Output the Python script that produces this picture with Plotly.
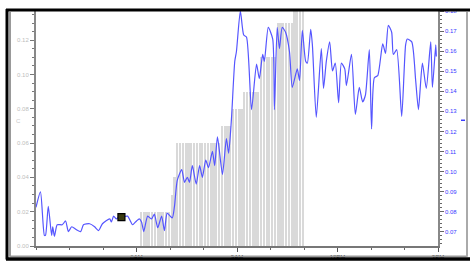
import plotly.graph_objects as go

DAY = "2024-01-01 "

# Line series (right axis)
line_times = ["03:00","03:08","03:15","03:17","03:22","03:28","03:30","03:33","03:38","03:47",
              "03:53","03:58","04:04","04:12","04:20","04:25","04:36","04:45","04:52","04:59",
              "05:12","05:15","05:19","05:24","05:28","05:33","05:44","05:53","06:00","06:05",
              "06:09","06:13","06:20","06:27","06:32","06:38","06:45","06:50","06:55","07:04",
              "07:08","07:13","07:21","07:26","07:31","07:35","07:40","07:47","07:53","07:58",
              "08:04","08:09","08:16","08:20","08:25","08:34","08:41","08:45","08:50","08:56",
              "08:59","09:06","09:12","09:17","09:26","09:35","09:40","09:46","09:49","09:56",
              "10:04","10:07","10:12","10:16","10:21","10:27","10:34","10:39","10:48","10:52",
              "10:57","11:03","11:06","11:12","11:15","11:22","11:31","11:35","11:40","11:46",
              "11:51","11:56","12:02","12:07","12:13","12:16","12:25","12:32","12:39","12:45",
              "12:50","12:57","13:01","13:06","13:12","13:21","13:26","13:31","13:37","13:40",
              "13:46","13:55","14:02","14:05","14:13","14:20","14:25","14:32","14:39","14:47",
              "14:50","14:56","14:57"]
line_values = [0.0821,0.0898,0.0681,0.0681,0.0826,0.0681,0.0724,0.0676,0.0734,0.0734,
               0.0753,0.0700,0.0724,0.0710,0.0700,0.0734,0.0739,0.0724,0.0705,0.0739,
               0.0763,0.0748,0.0777,0.0763,0.0772,0.0772,0.0777,0.0734,0.0753,0.0763,
               0.0748,0.0700,0.0777,0.0763,0.0787,0.0719,0.0777,0.0705,0.0792,0.0768,
               0.0826,0.0956,0.1009,0.0946,0.0971,0.0946,0.1029,0.0937,0.1029,0.0971,
               0.1057,0.1019,0.1101,0.1029,0.1173,0.0985,0.1164,0.1091,0.1260,0.1550,
               0.1599,0.1801,0.1681,0.1671,0.1309,0.1536,0.1463,0.1584,0.1550,0.1719,
               0.1661,0.1309,0.1719,0.1613,0.1719,0.1695,0.1599,0.1420,0.1512,0.1454,
               0.1705,0.1550,0.1541,0.1710,0.1632,0.1270,0.1613,0.1415,0.1550,0.1647,
               0.1502,0.1541,0.1343,0.1541,0.1512,0.1429,0.1584,0.1285,0.1420,0.1347,
               0.1381,0.1608,0.1212,0.1468,0.1478,0.1637,0.1589,0.1729,0.1695,0.1584,
               0.1608,0.1275,0.1632,0.1661,0.1647,0.1454,0.1309,0.1541,0.1415,0.1647,
               0.1420,0.1632,0.1574]

# Step bars (left axis), 5-minute intervals
bar_times = ["06:08","06:13","06:18","06:23","06:28","06:33","06:38","06:43","06:48","06:53","06:58",
             "07:03","07:08",
             "07:13","07:18","07:23","07:28","07:33","07:38","07:43","07:48","07:53","07:58",
             "08:03","08:08","08:13","08:18","08:23","08:28",
             "08:33","08:38","08:43","08:48",
             "08:53","08:58","09:03","09:08",
             "09:13","09:18","09:23","09:28","09:33","09:38",
             "09:43","09:48","09:53","09:58","10:03","10:08",
             "10:13","10:18","10:23","10:28","10:33","10:38",
             "10:43","10:48","10:53","10:58"]
bar_values = [0.02,0.02,0.02,0.02,0.02,0.02,0.02,0.02,0.02,0.02,0.02,
              0.03,0.04,
              0.06,0.06,0.06,0.06,0.06,0.06,0.06,0.06,0.06,0.06,
              0.06,0.06,0.06,0.06,0.06,0.06,
              0.07,0.07,0.07,0.07,
              0.08,0.08,0.08,0.08,
              0.09,0.09,0.09,0.09,0.09,0.09,
              0.11,0.11,0.11,0.11,0.11,0.11,
              0.13,0.13,0.13,0.13,0.13,0.13,
              0.14,0.14,0.14,0.14]

marker_time = ["05:33"]
marker_value = [0.0772]

x_tick_times = ["06:00", "09:00", "12:00", "15:00"]
x_tick_labels = ["6AM", "9AM", "12PM", "3PM"]

W, H = 470, 268
L, R, T, B = 36, 32, 8, 17
pw, ph = W - L - R, H - T - B

def px(x):
    return (x - L) / pw

def py(y):
    return (H - B - y) / ph

fig = go.Figure()
fig.add_trace(go.Bar(x=[DAY + t for t in bar_times], y=bar_values,
                     width=3.9 * 60000, marker=dict(color="#d9d9d9", line=dict(width=0)),
                     yaxis="y", showlegend=False))
fig.add_trace(go.Scatter(x=[DAY + t for t in line_times], y=line_values, mode="lines",
                         line=dict(color="rgb(85,85,255)", width=1.2, shape="spline", smoothing=0.6),
                         yaxis="y2", showlegend=False))
fig.add_trace(go.Scatter(x=[DAY + t for t in marker_time], y=marker_value, mode="markers",
                         marker=dict(symbol="square", size=7, color="#3a3a10",
                                     line=dict(color="black", width=1.2)),
                         yaxis="y2", showlegend=False))

tickfont = dict(family="Liberation Sans, Arial, sans-serif", size=6)

fig.update_layout(
    width=W, height=H,
    margin=dict(l=L, r=R, t=T, b=B, pad=0),
    paper_bgcolor="white", plot_bgcolor="white",
    bargap=0,
    xaxis=dict(type="date",
               range=[DAY + "03:00", DAY + "15:00"],
               tickvals=[DAY + t for t in x_tick_times], ticktext=x_tick_labels,
               tickfont=dict(tickfont, color="#1a1a1a"),
               ticks="outside", ticklen=4, tickcolor="#555", tickwidth=1,
               minor=dict(dtick=3600000, ticklen=2, tickcolor="#666", ticks="outside"),
               showline=True, linecolor="#777", linewidth=1.5,
               showgrid=False, zeroline=False),
    yaxis=dict(range=[0, 0.137], dtick=0.02, tickformat=".2f",
               tickfont=dict(tickfont, color="#bdbdbd"),
               ticks="outside", ticklen=4, tickcolor="#777",
               minor=dict(dtick=0.005, ticklen=2, tickcolor="#777", ticks="outside"),
               showline=True, linecolor="#888", linewidth=2,
               showgrid=False, zeroline=False),
    yaxis2=dict(range=[0.0628, 0.1801], dtick=0.01, tickformat=".2f",
                overlaying="y", side="right",
                tickfont=dict(tickfont, color="#3a3aff"),
                ticks="outside", ticklen=4, tickcolor="#666",
                minor=dict(dtick=0.002, ticklen=2, tickcolor="#666", ticks="outside"),
                showline=True, linecolor="#888", linewidth=1.5,
                showgrid=False, zeroline=False),
)

shapes = [
    # black top and left edges
    dict(type="line", xref="paper", yref="paper", x0=px(6), x1=px(470), y0=py(7), y1=py(7),
         line=dict(color="black", width=3)),
    dict(type="line", xref="paper", yref="paper", x0=px(7), x1=px(7), y0=py(6), y1=py(265),
         line=dict(color="black", width=3)),
    # grey inner edges
    dict(type="line", xref="paper", yref="paper", x0=px(10), x1=px(10), y0=py(9), y1=py(262),
         line=dict(color="#999999", width=2)),
    dict(type="line", xref="paper", yref="paper", x0=px(10), x1=px(467), y0=py(261.5), y1=py(261.5),
         line=dict(color="#999999", width=1.5)),
    dict(type="line", xref="paper", yref="paper", x0=px(467), x1=px(467), y0=py(9), y1=py(262),
         line=dict(color="#aaaaaa", width=2)),
    # black bottom edge
    dict(type="line", xref="paper", yref="paper", x0=px(6), x1=px(470), y0=py(264.5), y1=py(264.5),
         line=dict(color="black", width=3.5)),
    # small blue marker on right
    dict(type="line", xref="paper", yref="paper", x0=px(461), x1=px(465), y0=py(121), y1=py(121),
         line=dict(color="#3a3aff", width=1.5)),
]
fig.update_layout(shapes=shapes)
fig.add_annotation(text="C", xref="paper", yref="paper", x=px(14), y=py(122),
                   showarrow=False, font=dict(tickfont, color="#c8c8c8"), textangle=0)

fig.write_html("out.html",
               config={"displayModeBar": False},
               post_script="document.body.style.margin='0';document.body.style.overflow='hidden';")
